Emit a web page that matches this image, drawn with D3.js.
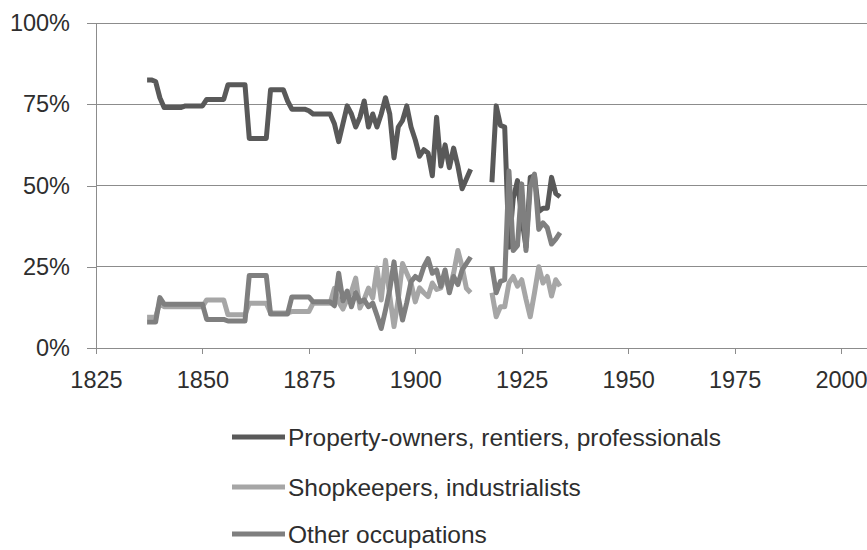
<!DOCTYPE html>
<html>
<head>
<meta charset="utf-8">
<script src="https://cdn.jsdelivr.net/npm/d3@7.9.0/dist/d3.min.js"></script>
<style>
  html, body { margin: 0; padding: 0; background: #fff; }
  svg text { font-family: "Liberation Sans", Arial, sans-serif; fill: #2e2e2e; }
</style>
</head>
<body>
<svg id="chart" width="867" height="550"></svg>
<script>
// first year of the series, one value per year, null = no data (1914-1917)
const firstYear = 1837;

const propertyOwners = [
  82.5, 82.5, 82, 77, 74, 74, 74, 74, 74, 74.5,          // 1837-1846
  74.5, 74.5, 74.5, 74.5, 76.5, 76.5, 76.5, 76.5, 76.5, 81, // 1847-1856
  81, 81, 81, 81, 64.5, 64.5, 64.5, 64.5, 64.5, 79.5,      // 1857-1866
  79.5, 79.5, 79.5, 76, 73.5, 73.5, 73.5, 73.5, 73, 72,    // 1867-1876
  72, 72, 72, 72, 69, 63.5, 69, 74.5, 72, 68,              // 1877-1886
  71, 76, 68, 72, 68, 72, 77, 72, 58.5, 68,                // 1887-1896
  70, 74.5, 68, 64, 59, 61, 60, 53, 71, 56,                // 1897-1906
  62.5, 55.5, 61.5, 56, 49, 52, 55, null, null, null,      // 1907-1916
  null, 51, 74.5, 68.5, 68, 31, 46, 51.5, 40, 31,          // 1917-1926
  52.5, 53, 42, 43, 43, 52.5, 47.5, 46.5                   // 1927-1934
];

const shopkeepers = [
  9.5, 9.5, 9.5, 14, 12.7, 12.7, 12.7, 12.7, 12.7, 12.7,
  12.7, 12.7, 12.7, 12.7, 14.8, 14.8, 14.8, 14.8, 14.8, 10.2,
  10.2, 10.2, 10.2, 10.2, 13.8, 13.8, 13.8, 13.8, 13.8, 10.8,
  10.8, 10.8, 10.8, 10.8, 11.2, 11.2, 11.2, 11.2, 11.2, 13.8,
  13.8, 13.8, 13.8, 13.8, 18.4, 14.2, 12, 15, 17.3, 21.5,
  12.3, 15, 18.4, 15.4, 24.6, 14.8, 27, 16, 6.6, 15,
  26, 23, 20, 14.2, 18.5, 17, 15.8, 20, 18, 18.5,
  22, 18, 23, 30, 25, 18.4, 17, null, null, null,
  null, 17, 9.6, 12.7, 12.7, 20, 22, 19, 21, 15,
  9.6, 17, 25, 20, 22, 16, 21, 19
];

const otherOccupations = [
  8, 8, 8, 15.5, 13.5, 13.5, 13.5, 13.5, 13.5, 13.5,
  13.5, 13.5, 13.5, 13.5, 8.8, 8.8, 8.8, 8.8, 8.8, 8.3,
  8.3, 8.3, 8.3, 8.3, 22.3, 22.3, 22.3, 22.3, 22.3, 10.5,
  10.5, 10.5, 10.5, 10.5, 15.7, 15.7, 15.7, 15.7, 15.7, 14.2,
  14.2, 14.2, 14.2, 14.2, 13, 23, 14.5, 17.5, 12.7, 17,
  14.2, 14.8, 12.7, 13.8, 10, 6, 11.7, 18, 26.5, 15.8,
  8.6, 14, 20.4, 22, 21, 25, 27.5, 23, 24, 19,
  24, 17, 22, 19.5, 24, 26, 28, null, null, null,
  null, 25, 17, 20.5, 21, 54.5, 30, 31.5, 50.5, 30,
  49.5, 53.5, 36.5, 38.5, 37, 32, 33.5, 35.5
];

const seriesNames = [
  "Property-owners, rentiers, professionals",
  "Shopkeepers, industrialists",
  "Other occupations"
];
const seriesColors = ["#595959", "#a6a6a6", "#7f7f7f"];
const xTicks = [1825, 1850, 1875, 1900, 1925, 1950, 1975, 2000];
const yTicks = [0, 25, 50, 75, 100];

const svg = d3.select("#chart");

const x = d3.scaleLinear().domain([1825, 2006.1]).range([96, 867]);
const y = d3.scaleLinear().domain([0, 100]).range([348, 23]);

// gridlines
svg.append("g")
  .selectAll("line")
  .data(yTicks.filter(d => d > 0))
  .join("line")
  .attr("x1", x(1825)).attr("x2", 867)
  .attr("y1", d => y(d)).attr("y2", d => y(d))
  .attr("stroke", "#8c8c8c")
  .attr("stroke-width", 1)
  .attr("shape-rendering", "crispEdges");

// y axis
const yAxis = svg.append("g")
  .attr("transform", `translate(${x(1825)},0)`)
  .call(d3.axisLeft(y).tickValues(yTicks).tickSize(9).tickPadding(17).tickFormat(d => d + "%"));

// x axis
const xAxis = svg.append("g")
  .attr("transform", `translate(0,${y(0)})`)
  .call(d3.axisBottom(x).tickValues(xTicks).tickSize(6).tickPadding(17).tickFormat(d3.format("d")));

[yAxis, xAxis].forEach(g => {
  g.select(".domain").attr("stroke", "#8c8c8c").attr("shape-rendering", "crispEdges");
  g.selectAll(".tick line").attr("stroke", "#8c8c8c").attr("shape-rendering", "crispEdges");
  g.selectAll(".tick text")
    .attr("fill", "#2e2e2e")
    .style("font-family", '"Liberation Sans", Arial, sans-serif')
    .style("font-size", "23.5px");
});
xAxis.select(".domain").attr("d", `M${x(1825)},0.5H867`);

// lines
const allSeries = [propertyOwners, shopkeepers, otherOccupations];
const line = d3.line()
  .defined(d => d[1] !== null)
  .x(d => x(d[0]))
  .y(d => y(d[1]));

allSeries.forEach((values, i) => {
  const pts = values.map((v, j) => [firstYear + j, v]);
  svg.append("path")
    .attr("d", line(pts))
    .attr("fill", "none")
    .attr("stroke", seriesColors[i])
    .attr("stroke-width", 5)
    .attr("stroke-linejoin", "round");
});

// legend
const legendY = [437, 487, 534];
const legend = svg.append("g");
seriesNames.forEach((name, i) => {
  legend.append("line")
    .attr("x1", 232).attr("x2", 285)
    .attr("y1", legendY[i]).attr("y2", legendY[i])
    .attr("stroke", seriesColors[i])
    .attr("stroke-width", 5);
  legend.append("text")
    .attr("x", 288)
    .attr("y", legendY[i])
    .attr("dy", "0.36em")
    .style("font-size", "24.5px")
    .text(name);
});
</script>
</body>
</html>
